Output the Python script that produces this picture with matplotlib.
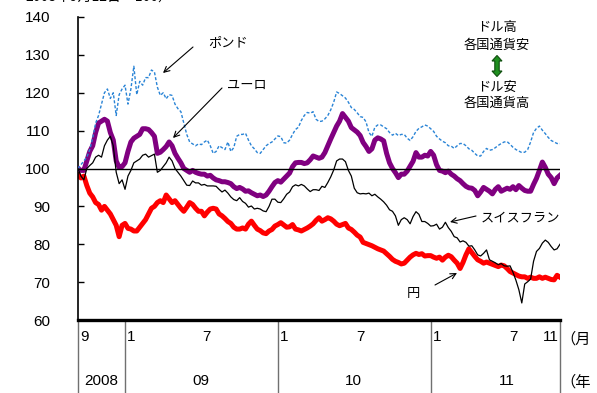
import matplotlib
matplotlib.use("Agg")
import matplotlib.pyplot as plt
import matplotlib.transforms as mtransforms
import matplotlib.dates as mdates
from matplotlib.lines import Line2D
from matplotlib.patches import Polygon
import pandas as pd

JP = ["Noto Sans CJK JP", "DejaVu Sans"]
NUM = ["Liberation Sans", "DejaVu Sans"]

# Exchange rates against the US dollar, 12 Sep 2008 = 100, weekly samples
dates = pd.date_range("2008-09-12", periods=165, freq="7D")

pound = [100, 101, 102, 103, 105, 108, 112, 114, 117, 120, 121, 118.5, 120, 114, 119.5, 121, 122, 117, 121, 127,
         119.5, 123, 122, 124, 124, 126, 125.5, 121.5, 119.3, 120, 118.4, 119.5, 119.3, 117, 115.8, 115, 112, 109,
         107, 106.5, 106, 106.5, 106.3, 107, 107.5, 106, 104, 104.5, 106, 105.5, 105, 107, 104.5, 105.5, 108.5, 109,
         109, 109.3, 107.5, 106, 105.2, 104.2, 104, 105, 106, 106.6, 107, 107.8, 108.6, 108.4, 106.8, 106.7, 107.5,
         109, 110.3, 110.9, 112.7, 114, 114.8, 114.6, 115, 113, 112.4, 112.5, 113.1, 114, 115.5, 117.5, 120.2, 119.8,
         119.2, 118.6, 117.5, 116.1, 115.6, 114.7, 113.7, 113.5, 112.3, 109.5, 108.5, 110.9, 111.5, 111.5, 111, 110.5,
         109.5, 108.8, 109.3, 108.7, 109,
         109, 108, 107.4, 108.4, 109.8, 110.6, 111, 111.5, 111.2, 110.5, 109.8, 108.5, 107.8, 107.2, 106.8, 106, 105.9,
         105.3, 106, 106.6, 106.6, 106, 105.2, 104.8, 104, 103.3, 103.3, 104.5, 105.3, 104.8, 105, 105.5, 106.1, 106.6,
         107, 107.1, 106.4, 105.6, 105, 104.6, 104.2, 104.3, 105, 107, 109.5, 110.6, 111.2, 110.1, 109.2, 108.2, 107.4,
         107, 106.6, 106.6]

euro = [100, 99.5, 99.5, 102, 104.5, 106, 109.5, 112, 112.5, 113, 112.5, 109.5, 107.5, 102, 100.3, 100.5, 101.5,
        104.5, 107, 108, 108.5, 109, 110.5, 110.5, 110.3, 109.5, 108.5, 104, 104.3, 105, 105.8, 107, 106, 104, 102.7,
        101.5, 100, 99.5, 99, 99.5, 99, 98.7, 98.5, 98.5, 98, 98.2, 97.5, 97, 96.8, 96.5, 96.5, 96.3, 96, 95.2, 94.7, 95,
        94.6, 94, 94.1, 93.6, 93.2, 92.8, 93, 92.6, 93, 94, 95.2, 96.3, 96.8, 96.4, 97.2, 98, 98.8, 100.5, 101.5, 101.6,
        101.6, 101.3, 101.5, 102.3, 103.3, 103, 102.7, 103, 104.2, 106, 107.8, 109.5, 111.2, 112.5, 114.5, 113.5, 112.5,
        110.8, 110.2, 109.6, 108.7, 106.9, 105.8, 104.5, 105.2, 107.5, 108.1, 107.8, 107.3, 104, 101.5, 100, 98.9, 97.6,
        98.5,
        98.5, 99.3, 100.6, 101.9, 104.2, 103, 103, 103.5, 103.3, 104.5, 103.5, 101, 99.5, 99.3, 98.9, 99.3, 98.5, 98,
        97.3, 96.8, 96, 95.3, 94.9, 94.8, 94.2, 92.8, 93.8, 95, 94.5, 94, 93.3, 94.5, 95.2, 94, 94.4, 94.8, 94.5, 95.2,
        94.4, 95.5, 94.8, 94.2, 94, 94, 95.8, 97.4, 99.5, 101.7, 100.3, 98.5, 97.6, 96, 97.5, 98.2]

swiss = [100, 98, 97, 100, 100.8, 101.5, 103, 103.5, 103, 106, 107.5, 108.5, 106, 99, 96, 97, 94.5, 98, 99.5, 101.5,
         102, 102.5, 103.5, 103.8, 103, 103.4, 103.8, 99, 99.5, 100.5, 101.5, 103, 102, 100, 99, 98, 96.8, 95.6, 95.5,
         96.7, 96.2, 96.2, 95.6, 95.8, 95.4, 95.4, 95.4, 95.3, 94.5, 93.8, 94.3, 93.5, 92.5, 91.8, 91.5, 92.3,
         91.3, 90.8, 89.8, 90.1, 89.3, 89.5, 89.3, 88.8, 88.6, 90, 91.9, 91.9, 91.1, 91, 92, 93.2, 93.8, 95.2, 95.7, 95.4,
         95.8, 95.4, 94.6, 93.9, 94.4, 94.4, 94.2, 95.3, 95, 96.3, 97.8, 99.6, 102, 102.5, 102.5, 101.8, 99.5, 98, 94.8,
         93.6, 93.3, 93.4, 93.3, 93.5, 92.8, 93.2, 92.5, 91.9, 91.2, 90.3, 89.1, 88.7, 87.5, 85, 86.5,
         87, 86.5, 85.4, 87.3, 88.6, 87.9, 86, 86, 85.5, 84.8, 84.9, 85.3, 84, 84.5, 85.8, 84.4, 83.4, 82, 81.7, 80.6,
         80.9, 80.5, 79.5, 79.6, 78.5, 77.2, 76.9, 77.6, 78.5, 75.9, 75.5, 75.1, 74.6, 74.9, 74.3, 74.2, 74.3, 72.6,
         70.5, 68, 64.5, 69.5, 70.1, 70.8, 75.5, 78.1, 78.9, 80.3, 81.1, 80.5, 79.4, 78.5, 78.8, 80]

yen = [98.5, 97.5, 98, 95.5, 93.5, 92.5, 91, 90.5, 89, 90, 89, 88, 86.5, 85, 82, 85, 85.5, 84.2, 84, 83.5, 83.5,
       84.5, 85.5, 86.5, 88, 89.5, 90, 91, 91.5, 91, 93, 92, 91, 91.5, 90.5, 89.5, 88.7, 89.8, 91, 90.5, 89.5, 88.7,
       88.7, 87.5, 88.5, 89.3, 89.5, 89.3, 88, 87.5, 86.8, 86, 85.5, 84.5, 84, 84,
       84.3, 84, 85.3, 86.1, 85, 84, 83.6, 83, 82.8, 83.5, 83.9, 84.8, 85.2, 85.7, 85.1, 84.5, 84.6, 85.2, 84, 83.8,
       83.5, 83.9, 84.3, 84.8, 85.4, 86.3, 87, 86.1, 86.5, 87, 86.7, 86.1, 85.3, 84.9, 85.2, 85.5, 84.3, 83.9, 83.2,
       82.4, 81.9, 80.5, 80.2, 79.9, 79.6, 79.2, 78.8, 78.5, 78.2, 77.5, 76.8, 76, 75.5, 75.2, 74.8,
       75, 75.8, 76.6, 77.2, 77.6, 77.3, 77.5, 76.9, 77, 77, 76.6, 76.3, 76.6, 75.8, 76.6, 77.1, 76.7, 75.8, 75, 73.6,
       75.2, 77.2, 78.8, 77.8, 76.8, 75.9, 75.5, 75, 75.3, 75, 74.7, 74.4, 74.1, 74.5, 74.3, 73.6, 72.8, 72.4, 72,
       71.6, 71.4, 71.4, 71, 71.3, 71, 71, 71.4, 71, 71.3, 71, 70.7, 70.6, 71.8, 71.3]

month_pos = ["2008-09-12", "2009-01-01", "2009-07-01", "2010-01-01", "2010-07-01", "2011-01-01", "2011-07-01", "2011-11-04"]
month_lab = ["9", "1", "7", "1", "7", "1", "7", "11"]
year_pos = ["2008-11-06", "2009-07-01", "2010-07-01", "2011-07-01"]
year_lab = ["2008", "09", "10", "11"]
year_edges = ["2008-09-12", "2009-01-01", "2010-01-01", "2011-01-01", "2011-11-04"]
yticks = [60, 70, 80, 90, 100, 110, 120, 130, 140]

W, H = 597, 393


def fp(x, y):
    """pixel position (from top-left) -> figure fraction"""
    return (x / W, 1 - y / H)


def dnum(d):
    return mdates.date2num(pd.Timestamp(d))


fig = plt.figure(figsize=(W / 100, H / 100), dpi=100)
ax = fig.add_axes([78 / W, 1 - 320 / H, (560 - 78) / W, (320 - 17) / H])

ax.plot(dates, yen, color="#ff0000", lw=3.6, solid_joinstyle="round", zorder=2)
ax.plot(dates, euro, color="#800080", lw=3.6, solid_joinstyle="round", zorder=3)
ax.plot(dates, pound, color="#2a84d6", lw=1.0, ls=(0, (2.2, 1.4)), zorder=3)
ax.plot(dates, swiss, color="black", lw=0.9, zorder=4)
ax.axhline(100, color="black", lw=1.0, zorder=5)

ax.set_xlim(dnum(year_edges[0]), dnum(year_edges[-1]))
ax.set_ylim(60, 140)
ax.set_yticks(yticks)
ax.set_yticklabels([str(v) for v in yticks], family=NUM, fontsize=11)
ax.tick_params(axis="y", direction="in", length=4, width=1, pad=20)
ax.set_xticks([])
for s in ("top", "right"):
    ax.spines[s].set_visible(False)
ax.spines["bottom"].set_linewidth(2.4)
ax.spines["left"].set_linewidth(1.2)

# calendar rows below the plot
tr = mtransforms.blended_transform_factory(ax.transData, ax.transAxes)
for d in year_edges:
    x = dnum(d)
    ax.add_line(Line2D([x, x], [0, -0.3], transform=tr, color="#707070", lw=1.0, clip_on=False))

for d, lab in zip(month_pos, month_lab):
    ha = "right" if lab == "11" else "left"
    off = -1 if ha == "right" else 1.5
    ax.annotate(lab, xy=(dnum(d), -0.056), xycoords=tr, xytext=(off, 0), textcoords="offset points",
                ha=ha, va="center", family=NUM, fontsize=11, annotation_clip=False)

for d, lab in zip(year_pos, year_lab):
    ax.text(dnum(d), -0.2, lab, transform=tr, ha="center", va="center", family=NUM, fontsize=11)

fig.text(*fp(560, 339), "（月", ha="left", va="center", family=JP, fontsize=11)
fig.text(*fp(560, 382), "（年", ha="left", va="center", family=JP, fontsize=11)

fig.text(*fp(25, 5), "2008年9月12日＝100）", ha="left", va="bottom", family=JP, fontsize=10)

# series labels
lab_kw = dict(family=JP, fontsize=9.5, ha="center", va="center")
arr = dict(arrowstyle="->", color="black", lw=0.8, shrinkA=0, shrinkB=0)
fig.text(*fp(228, 43), "ポンド", **lab_kw)
ax.annotate("", xy=fp(163, 73), xytext=fp(193, 47), xycoords="figure fraction", arrowprops=arr)
fig.text(*fp(247, 85), "ユーロ", **lab_kw)
ax.annotate("", xy=fp(173, 138), xytext=fp(222, 88), xycoords="figure fraction", arrowprops=arr)
fig.text(*fp(520, 218), "スイスフラン", **lab_kw)
ax.annotate("", xy=fp(450, 222), xytext=fp(476, 216), xycoords="figure fraction", arrowprops=arr)
fig.text(*fp(413, 293), "円", **lab_kw)
ax.annotate("", xy=fp(457, 273), xytext=fp(435, 285), xycoords="figure fraction", arrowprops=arr)

# direction legend
fig.text(*fp(497, 27), "ドル高", **lab_kw)
fig.text(*fp(497, 45), "各国通貨安", **lab_kw)
fig.text(*fp(497, 87), "ドル安", **lab_kw)
fig.text(*fp(497, 103), "各国通貨高", **lab_kw)
cx, top, bot, hw, sw, hl = 497, 55.5, 76.5, 5.0, 2.2, 5.5
arrow_pts = [(cx, top), (cx + hw, top + hl), (cx + sw, top + hl), (cx + sw, bot - hl), (cx + hw, bot - hl),
             (cx, bot), (cx - hw, bot - hl), (cx - sw, bot - hl), (cx - sw, top + hl), (cx - hw, top + hl)]
fig.patches.append(Polygon([fp(px, py) for px, py in arrow_pts], closed=True, transform=fig.transFigure,
                           facecolor="#1f8f1f", edgecolor="#0d4d0d", lw=0.8))

fig.savefig("out.png", dpi=100)
